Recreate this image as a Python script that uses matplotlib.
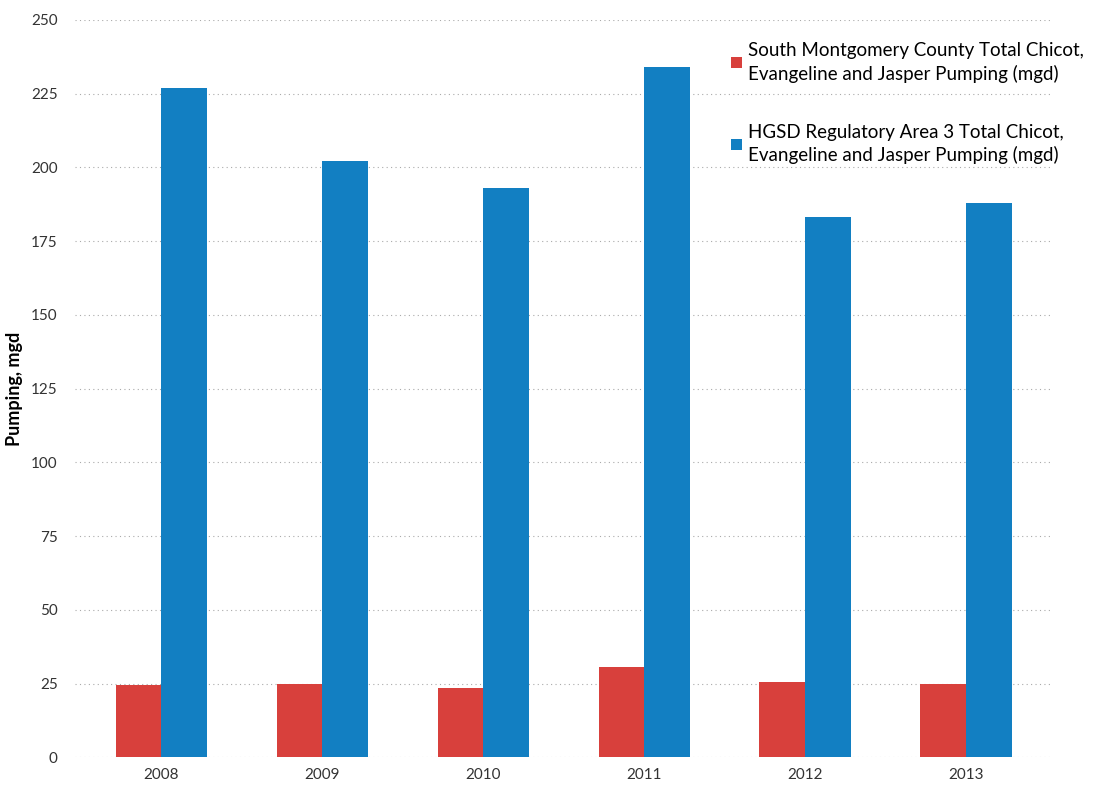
import matplotlib.pyplot as plt
import numpy as np

years = ['2008', '2009', '2010', '2011', '2012', '2013']
southMontgomery = [24.4, 24.8, 23.4, 30.5, 25.5, 24.8]
hgsdArea3 = [227, 202, 193, 234, 183, 188]

labelRed = 'South Montgomery County Total Chicot,\nEvangeline and Jasper Pumping (mgd)'
labelBlue = 'HGSD Regulatory Area 3 Total Chicot,\nEvangeline and Jasper Pumping (mgd)'

plt.rcParams['font.family'] = ['Lato', 'DejaVu Sans']

fig = plt.figure(figsize=(10.96, 7.93), dpi=100)
ax = fig.add_axes([0.068, 0.045, 0.893, 0.93])

x = np.arange(len(years))
w = 0.285
ax.bar(x - w/2, southMontgomery, width=w, color='#d8403c', label=labelRed, zorder=2)
ax.bar(x + w/2, hgsdArea3, width=w, color='#127fc2', label=labelBlue, zorder=2)

ax.set_xlim(-0.54, 5.54)
ax.set_ylim(0, 250)
ax.set_yticks(np.arange(0, 251, 25))
ax.set_xticks(x)
ax.set_xticklabels(years)
ax.tick_params(axis='both', length=0, labelsize=11, colors='#333333')
ax.tick_params(axis='y', pad=12)
ax.tick_params(axis='x', pad=8)
ax.yaxis.grid(True, linestyle=(0, (1, 3)), color='#aaaaaa', linewidth=0.8, zorder=0)
for s in ax.spines.values():
    s.set_visible(False)

ax.set_ylabel('Pumping, mgd', fontsize=13, fontweight='bold', labelpad=6)

leg = fig.legend(loc='upper left', bbox_to_anchor=(0.652, 0.968), frameon=False,
                 fontsize=13.5, handlelength=0.55, handleheight=0.55, handletextpad=0.35,
                 labelspacing=2.2)
for t in leg.get_texts():
    t.set_linespacing(1.35)

plt.savefig('out.png', dpi=100)
